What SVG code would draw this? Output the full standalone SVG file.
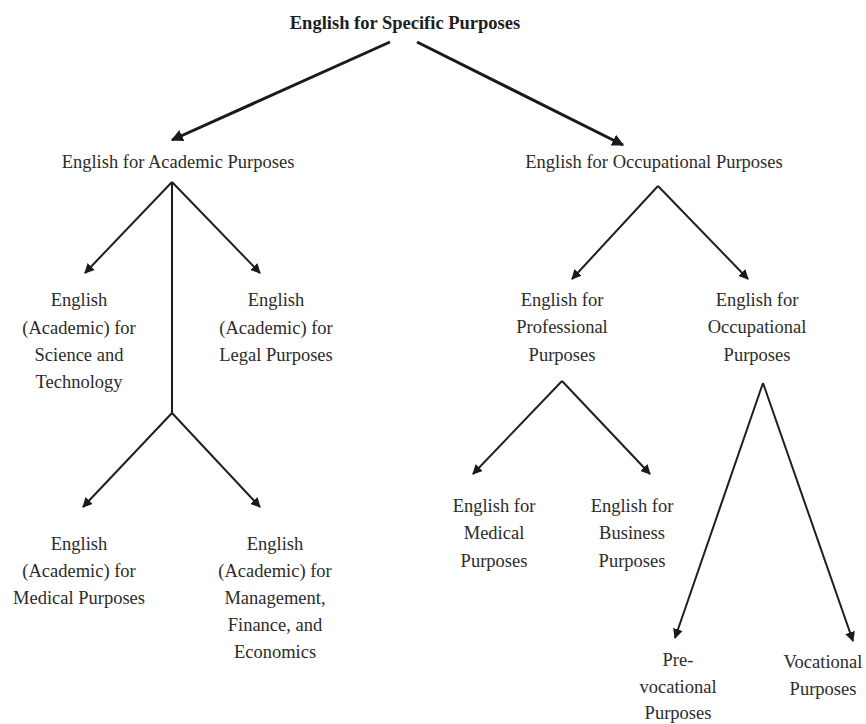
<svg xmlns="http://www.w3.org/2000/svg" width="866" height="724" viewBox="0 0 866 724">
<style>
text{font-family:'Liberation Serif','DejaVu Serif',serif;font-size:18.5px;fill:#2b2b2b;text-anchor:middle}
.title{font-weight:bold;fill:#1e1e1e}
.c{stroke:#1e1e1e;stroke-width:2;fill:none}
.t{stroke:#1a1a1a;stroke-width:3;fill:none}
</style>
<defs>
<marker id="ah" viewBox="0 0 10 10" refX="9" refY="5" markerWidth="5" markerHeight="5" orient="auto" markerUnits="strokeWidth">
<path d="M0,0 L10,5 L0,10 z" fill="#1a1a1a"/>
</marker>
<marker id="ahs" viewBox="0 0 10 10" refX="9" refY="5" markerWidth="4" markerHeight="4" orient="auto" markerUnits="strokeWidth">
<path d="M0,0 L10,5 L0,10 z" fill="#1a1a1a"/>
</marker>
</defs>
<rect width="866" height="724" fill="#fff"/>
<g id="connectors">
<line class="t" x1="390" y1="42" x2="172" y2="140" marker-end="url(#ahs)"/>
<line class="t" x1="417" y1="42" x2="623" y2="145" marker-end="url(#ahs)"/>
<line class="c" x1="172" y1="182" x2="85" y2="273" marker-end="url(#ah)"/>
<line class="c" x1="172" y1="182" x2="260" y2="273" marker-end="url(#ah)"/>
<line class="c" x1="172" y1="182" x2="172" y2="413"/>
<line class="c" x1="172" y1="413" x2="83" y2="507" marker-end="url(#ah)"/>
<line class="c" x1="172" y1="413" x2="260" y2="507" marker-end="url(#ah)"/>
<line class="c" x1="658" y1="186" x2="572" y2="279" marker-end="url(#ah)"/>
<line class="c" x1="658" y1="186" x2="748" y2="279" marker-end="url(#ah)"/>
<line class="c" x1="562" y1="381" x2="473" y2="474" marker-end="url(#ah)"/>
<line class="c" x1="562" y1="381" x2="650" y2="474" marker-end="url(#ah)"/>
<line class="c" x1="763" y1="383" x2="675" y2="638" marker-end="url(#ah)"/>
<line class="c" x1="763" y1="383" x2="853" y2="641" marker-end="url(#ah)"/>
</g>
<g font-family="Liberation Serif, DejaVu Serif, serif">
<g id="esp"><text class="title" x="405" y="29">English for Specific Purposes</text></g>
<g id="eap"><text x="178" y="168">English for Academic Purposes</text></g>
<g id="eop"><text x="654" y="168">English for Occupational Purposes</text></g>
<g id="est"><text x="79" y="306">English</text><text x="79" y="334">(Academic) for</text><text x="79" y="361">Science and</text><text x="79" y="388">Technology</text></g>
<g id="elp"><text x="276" y="306">English</text><text x="276" y="334">(Academic) for</text><text x="276" y="361">Legal Purposes</text></g>
<g id="emp"><text x="79" y="550">English</text><text x="79" y="577">(Academic) for</text><text x="79" y="604">Medical Purposes</text></g>
<g id="emfe"><text x="275" y="550">English</text><text x="275" y="577">(Academic) for</text><text x="275" y="604">Management,</text><text x="275" y="631">Finance, and</text><text x="275" y="658">Economics</text></g>
<g id="epp"><text x="562" y="306">English for</text><text x="562" y="333">Professional</text><text x="562" y="361">Purposes</text></g>
<g id="eop2"><text x="757" y="306">English for</text><text x="757" y="333">Occupational</text><text x="757" y="361">Purposes</text></g>
<g id="emed"><text x="494" y="512">English for</text><text x="494" y="539">Medical</text><text x="494" y="567">Purposes</text></g>
<g id="ebus"><text x="632" y="512">English for</text><text x="632" y="539">Business</text><text x="632" y="567">Purposes</text></g>
<g id="prevoc"><text x="678" y="666">Pre-</text><text x="678" y="693">vocational</text><text x="678" y="719">Purposes</text></g>
<g id="voc"><text x="823" y="668">Vocational</text><text x="823" y="695">Purposes</text></g>
</g>
</svg>
